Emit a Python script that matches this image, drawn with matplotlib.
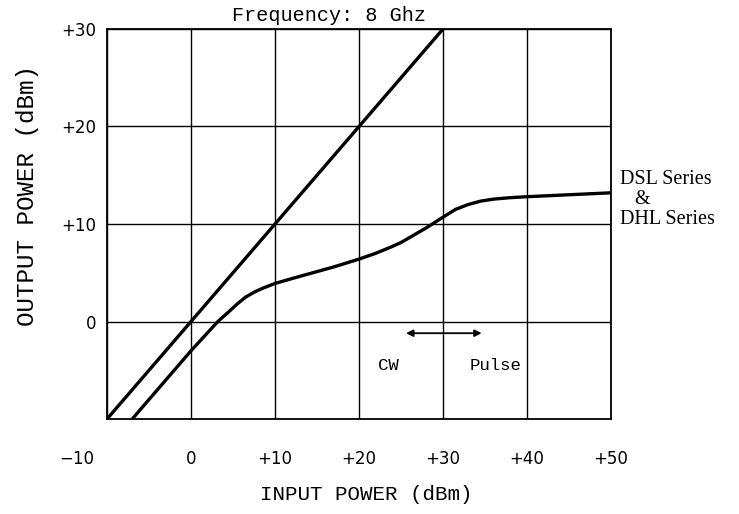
import numpy as np
import matplotlib.pyplot as plt
from matplotlib.transforms import ScaledTranslation

# linear (small signal) line
linear_in = [-10, 30]
linear_out = [-10, 30]

# DSL / DHL series saturation curve
curve_in = [-7.0, -3.5, 0, 3.2, 4.5, 5.5, 6.5, 7.5, 8.5, 10, 12, 14.5, 17, 20, 22,
            23.7, 25, 26.4, 28, 30, 31.5, 33, 34.5, 36, 38, 40, 45, 50]
curve_out = [-10, -6.5, -3.0, 0, 1.0, 1.8, 2.5, 3.0, 3.4, 3.9, 4.4, 5.0, 5.6, 6.4, 7.0,
             7.6, 8.1, 8.8, 9.6, 10.7, 11.5, 12.0, 12.35, 12.55, 12.7, 12.8, 13.0, 13.2]

x_ticks = [-10, 0, 10, 20, 30, 40, 50]
x_labels = ["\u221210", "0", "+10", "+20", "+30", "+40", "+50"]
y_ticks = [0, 10, 20, 30]
y_labels = ["0", "+10", "+20", "+30"]

fig = plt.figure(figsize=(7.39, 5.14), dpi=100)
ax = fig.add_axes([0.1448, 0.1848, 0.682, 0.7588])

ax.plot(linear_in, linear_out, color="black", lw=2.4, solid_capstyle="butt")
ax.plot(curve_in, curve_out, color="black", lw=2.4, solid_joinstyle="round")

ax.set_xlim(-10, 50)
ax.set_ylim(-10, 30)
ax.set_xticks(x_ticks, x_labels)
ax.set_yticks(y_ticks, y_labels)
ax.tick_params(length=0, labelsize=12, pad=22, axis="x")
ax.tick_params(length=0, labelsize=12, pad=8, axis="y")
ax.grid(True, color="black", lw=1.0)
for s in ax.spines.values():
    s.set_linewidth(1.3)

# the -10 label sits left of the corner
lbl = ax.get_xticklabels()[0]
lbl.set_transform(lbl.get_transform() + ScaledTranslation(-0.30, 0, fig.dpi_scale_trans))

mono = "Liberation Mono"
ax.set_xlabel("INPUT POWER (dBm)", fontsize=15, family=mono)
ax.xaxis.set_label_coords(0.514, -0.168)
ax.set_ylabel("OUTPUT POWER (dBm)", fontsize=17.5, family=mono)
ax.yaxis.set_label_coords(-0.135, 0.574)

ax.text(16.4, 30.8, "Frequency: 8 Ghz", fontsize=14.5, family=mono, ha="center", va="baseline")

ax.annotate("", xy=(25.6, -1.2), xytext=(34.6, -1.2),
            arrowprops=dict(arrowstyle="<|-|>", color="black", lw=1.3, mutation_scale=10,
                            shrinkA=0, shrinkB=0))
ax.text(23.5, -4.5, "CW", fontsize=12.5, family=mono, ha="center", va="center")
ax.text(36.2, -4.5, "Pulse", fontsize=12.5, family=mono, ha="center", va="center")

ax.text(51.1, 12.5, "DSL Series\n   &\nDHL Series", fontsize=14.5, family="Liberation Serif",
        ha="left", va="center", multialignment="left", linespacing=1.05, clip_on=False)

fig.savefig("out.png", dpi=100)
